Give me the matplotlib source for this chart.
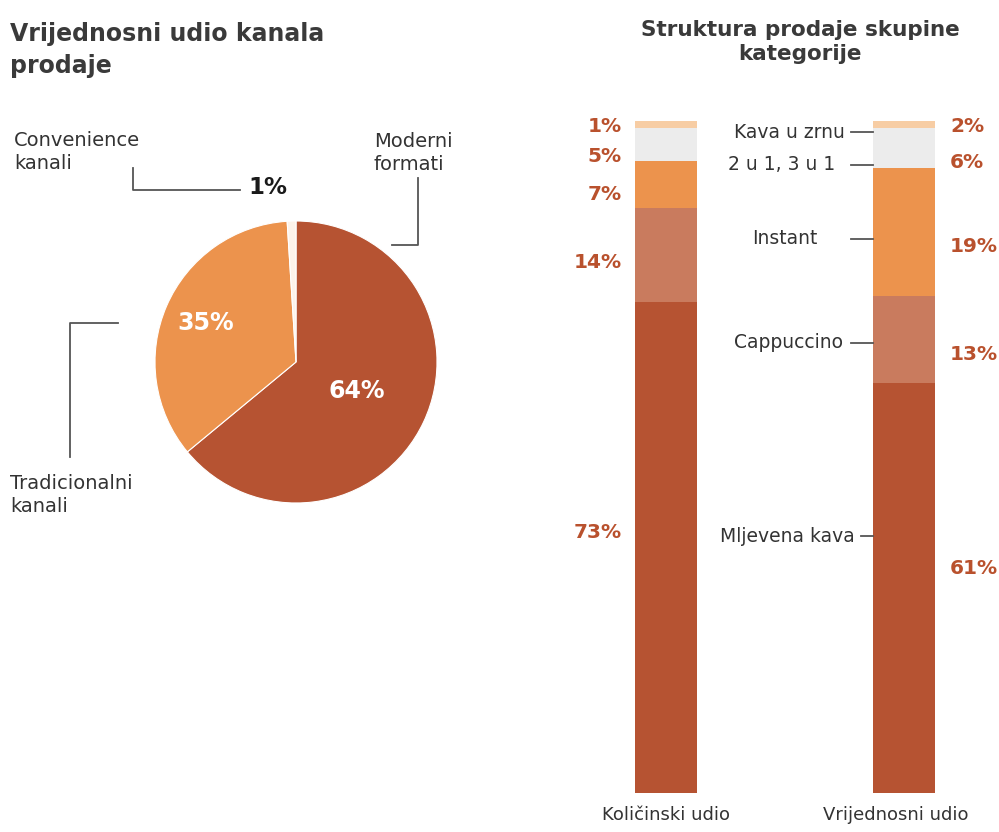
import numpy as np
import matplotlib.pyplot as plt

# pie data: share of sales channel value
kanali = ['Moderni formati', 'Tradicionalni kanali', 'Convenience kanali']
kanali_udio = [64, 35, 1]

# stacked bars: category structure
kategorije = ['Mljevena kava', 'Cappuccino', 'Instant', '2 u 1, 3 u 1', 'Kava u zrnu']
kolicinski = [73, 14, 7, 5, 1]
vrijednosni = [61, 13, 19, 6, 2]
stupci = ['Količinski udio', 'Vrijednosni udio']

boje_pie = ['#b65332', '#ec934d', '#fdf3ea']
boje_kat = ['#b65332', '#c97b5e', '#ec934d', '#ececec', '#f7cda4']
narancasta = '#b9512d'
tekst = '#333333'
linija = '#555555'

plt.rcParams['font.family'] = ['DejaVu Sans']

W, H = 999, 832
fig = plt.figure(figsize=(W / 100, H / 100), dpi=100)

# overlay axis in pixel coordinates for titles and leader lines
ov = fig.add_axes([0, 0, 1, 1])
ov.set_xlim(0, W)
ov.set_ylim(H, 0)
ov.axis('off')
ov.set_zorder(5)

# ---- pie ----
cx, cy, r = 296, 362, 141
ax_pie = fig.add_axes([(cx - r) / W, (H - cy - r) / H, 2 * r / W, 2 * r / H])
wedges, _ = ax_pie.pie(kanali_udio, colors=boje_pie, startangle=90, counterclock=False,
                       wedgeprops=dict(linewidth=0.8, edgecolor='white'))
ax_pie.set_xlim(-1, 1)
ax_pie.set_ylim(-1, 1)
ax_pie.set_aspect('auto')

# percentage labels inside pie
ang = 90
for i, (v, rr) in enumerate(zip(kanali_udio, [0.48, 0.70, 0])):
    mid = ang - v * 3.6 / 2
    ang -= v * 3.6
    if i == 2:
        continue
    ax_pie.text(rr * np.cos(np.radians(mid)), rr * np.sin(np.radians(mid)),
                f'{v}%', color='white', fontsize=17, fontweight='bold',
                ha='center', va='center')

ov.text(10, 50, 'Vrijednosni udio kanala\nprodaje', fontsize=17, fontweight='bold',
        color='#3a3a3a', ha='left', va='center', linespacing=1.42)

ov.text(14, 152, 'Convenience\nkanali', fontsize=14, color=tekst, ha='left', va='center',
        linespacing=1.3)
ov.plot([133, 133, 240], [168, 190, 190], color=linija, lw=1.3)
ov.text(268, 188, f'{kanali_udio[2]}%', fontsize=16.5, fontweight='bold', color='#1a1a1a',
        ha='center', va='center')

ov.text(374, 153, 'Moderni\nformati', fontsize=14, color=tekst, ha='left', va='center',
        linespacing=1.3)
ov.plot([418, 418, 392], [178, 245, 245], color=linija, lw=1.3)

ov.text(10, 495, 'Tradicionalni\nkanali', fontsize=14, color=tekst, ha='left', va='center',
        linespacing=1.3)
ov.plot([70, 70, 118], [457, 323, 323], color=linija, lw=1.3)

# ---- stacked bars ----
x0, x1, ytop, ybot = 666, 904, 121, 793
scale = x1 - x0
left_px, right_px = 560, 999
ax_bar = fig.add_axes([left_px / W, (H - ybot) / H, (right_px - left_px) / W, (ybot - ytop) / H])
ax_bar.set_xlim(-(x0 - left_px) / scale, (right_px - x0) / scale)
ax_bar.set_ylim(0, 100)
ax_bar.axis('off')

xs = np.arange(len(stupci))
sirina = 62 / scale
for serija, x in zip([kolicinski, vrijednosni], xs):
    dno = 0
    for v, c in zip(serija, boje_kat):
        ax_bar.bar(x, v, width=sirina, bottom=dno, color=c, linewidth=0)
        dno += v

# percentage labels (left of bar 1, right of bar 2)
lijevo_y = [533, 263, 194, 157, 126]
desno_y = [568, 354, 246, 162, 126]
for v, y in zip(kolicinski, lijevo_y):
    ov.text(622, y, f'{v}%', fontsize=14.5, fontweight='bold', color=narancasta,
            ha='right', va='center')
for v, y in zip(vrijednosni, desno_y):
    ov.text(950, y, f'{v}%', fontsize=14.5, fontweight='bold', color=narancasta,
            ha='left', va='center')

# category labels with leader lines to bar 2
kat_y = [536, 343, 239, 165, 132]
kat_kraj = [855, 843, 818, 835, 845]
kat_linija = [861, 851, 851, 851, 851]
for k, y, xe, xl in zip(kategorije, kat_y, kat_kraj, kat_linija):
    ov.text(xe, y, k, fontsize=13.5, color=tekst, ha='right', va='center')
    ov.plot([xl, 873], [y, y], color=linija, lw=1.3)

for s, x in zip(stupci, [666, 896]):
    ov.text(x, 815, s, fontsize=13, color=tekst, ha='center', va='center')

ov.text(800, 42, 'Struktura prodaje skupine\nkategorije', fontsize=15.5, fontweight='bold',
        color='#3a3a3a', ha='center', va='center', linespacing=1.2)

fig.savefig('out.png', dpi=100, facecolor='white')
